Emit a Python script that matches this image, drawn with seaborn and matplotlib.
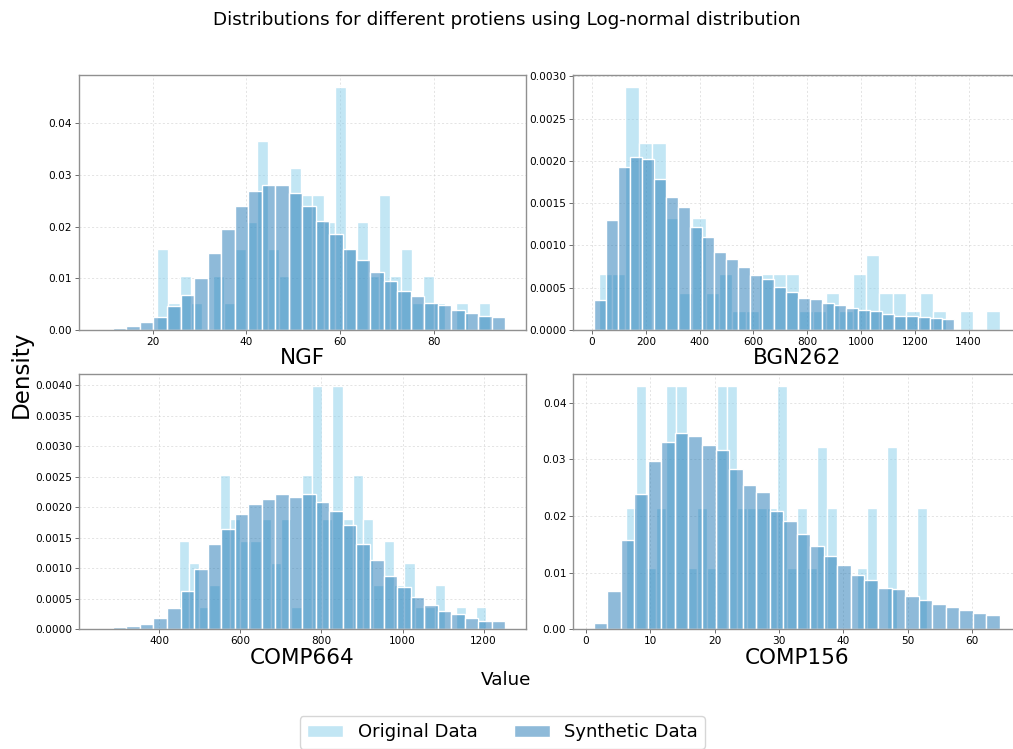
import numpy as np
import pandas as pd
import matplotlib
matplotlib.use("Agg")
import matplotlib.pyplot as plt
import seaborn as sns

proteins = ["NGF", "BGN262", "COMP664", "COMP156"]

# ---- bin layout (start, width) for each series, 30 bins each ----
orig_bin_start = [21.0, 24.7, 447.6, 6.30]
orig_bin_width = [2.365, 49.7, 25.3, 1.558]
syn_bin_start = [8.6, 6.2, 252.3, 1.24]
syn_bin_width = [2.89, 44.6, 33.37, 2.102]

# ---- densities ----
ngf_orig = [0.0157, 0.0052, 0.0104, 0.0052, 0.0, 0.0104, 0.0052, 0.0157, 0.0209, 0.0365,
            0.0157, 0.0104, 0.0313, 0.0261, 0.0261, 0.0209, 0.0470, 0.0157, 0.0209, 0.0104,
            0.0261, 0.0104, 0.0157, 0.0052, 0.0104, 0.0052, 0.0, 0.0052, 0.0, 0.0052]
ngf_syn = [0.0001, 0.0003, 0.0008, 0.0016, 0.0025, 0.0047, 0.0068, 0.0101, 0.0148, 0.0196,
           0.0240, 0.0269, 0.0280, 0.0281, 0.0265, 0.0240, 0.0211, 0.0185, 0.0157, 0.0135,
           0.0113, 0.0095, 0.0075, 0.0065, 0.0053, 0.0048, 0.0039, 0.0033, 0.0027, 0.0025]

bgn_orig = [0.000663, 0.000663, 0.002873, 0.00221, 0.00221, 0.001326, 0.000442, 0.001326,
            0.000442, 0.000663, 0.000221, 0.000221, 0.000663, 0.000663, 0.000663, 0.000221,
            0.000221, 0.000442, 0.000221, 0.000663, 0.000884, 0.000442, 0.000442, 0.000221,
            0.000442, 0.000221, 0.0, 0.000221, 0.0, 0.000221]
bgn_syn = [0.000354, 0.00130, 0.00193, 0.00205, 0.00202, 0.00179, 0.00157, 0.00145, 0.00122,
           0.00110, 0.00092, 0.00084, 0.00074, 0.00065, 0.00060, 0.00051, 0.00045, 0.00038,
           0.00037, 0.00032, 0.00029, 0.00026, 0.00024, 0.00022, 0.00019, 0.00017, 0.00016,
           0.00015, 0.00014, 0.00013]

c664_orig = [0.001448, 0.001086, 0.000362, 0.000724, 0.002534, 0.00181, 0.001448, 0.001448,
             0.00181, 0.001086, 0.00181, 0.000362, 0.002534, 0.003982, 0.00181, 0.003982,
             0.00181, 0.002534, 0.00181, 0.000724, 0.001448, 0.000724, 0.001086, 0.000362,
             0.000362, 0.000724, 0.0, 0.000362, 0.0, 0.000362]
c664_syn = [0.000016, 0.000033, 0.00005, 0.000077, 0.00019, 0.000346, 0.000626, 0.00098,
            0.00139, 0.00165, 0.00188, 0.00205, 0.00213, 0.00222, 0.00217, 0.00221, 0.00209,
            0.00193, 0.00170, 0.00139, 0.00113, 0.00087, 0.00069, 0.00052, 0.00039, 0.00030,
            0.00025, 0.00019, 0.00014, 0.00014]

c156_orig = [0.02144, 0.04288, 0.01072, 0.02144, 0.04288, 0.04288, 0.01072, 0.02144, 0.01072,
             0.04288, 0.04288, 0.02144, 0.02144, 0.02144, 0.02144, 0.04288, 0.01072, 0.02144,
             0.01072, 0.03216, 0.02144, 0.0, 0.0, 0.01072, 0.02144, 0.0, 0.03216, 0.0, 0.0,
             0.02144]
c156_syn = [0.00106, 0.00674, 0.01566, 0.02393, 0.02962, 0.03302, 0.03460, 0.03402, 0.03243,
            0.03161, 0.02833, 0.02540, 0.02422, 0.02094, 0.01912, 0.01677, 0.01472, 0.01284,
            0.01138, 0.00950, 0.00868, 0.00721, 0.00710, 0.00581, 0.00510, 0.00440, 0.00387,
            0.00340, 0.00287, 0.00258]

original = [ngf_orig, bgn_orig, c664_orig, c156_orig]
synthetic = [ngf_syn, bgn_syn, c664_syn, c156_syn]

fig, axes = plt.subplots(2, 2, figsize=(10.13, 7.49), dpi=100)
fig.subplots_adjust(left=0.078, right=1.007, top=0.9, bottom=0.16,
                    wspace=0.107, hspace=0.173)

for k, ax in enumerate(axes.flat):
    for vals, start, width, color, label in [
        (original[k], orig_bin_start[k], orig_bin_width[k], "skyblue", "Original Data"),
        (synthetic[k], syn_bin_start[k], syn_bin_width[k], "#1f77b4", "Synthetic Data"),
    ]:
        n = len(vals)
        edges = start + width * np.arange(n + 1)
        centers = (edges[:-1] + edges[1:]) / 2
        df = pd.DataFrame({"value": centers, "density": np.asarray(vals, dtype=float)})
        sns.histplot(data=df, x="value", weights="density", bins=n,
                     binrange=(edges[0], edges[-1]), stat="count",
                     color=color, alpha=0.5, edgecolor="white", linewidth=1.0,
                     label=label, ax=ax)
    ax.set_xlabel(proteins[k], fontsize=15.5, labelpad=1)
    ax.set_ylabel("")
    ax.grid(True, linestyle=(0, (3, 3)), color="#d0d0d0", linewidth=0.5, alpha=0.8)
    ax.set_axisbelow(True)
    for sp in ax.spines.values():
        sp.set_color("#909090")
        sp.set_linewidth(1.0)
    ax.tick_params(axis="both", labelsize=7.6, color="#555555", length=2.6,
                   width=0.6, pad=2.5)

fig.suptitle("Distributions for different protiens using Log-normal distribution",
             fontsize=13.2, y=0.985)
fig.supxlabel("Value", fontsize=13.2, y=0.08)
fig.supylabel("Density", fontsize=16.6, x=0.01)

handles, labels = axes.flat[0].get_legend_handles_labels()
fig.legend(handles, labels, loc="upper center", bbox_to_anchor=(0.496, 0.056),
           ncol=2, fontsize=13, frameon=True, columnspacing=2.0)

fig.savefig("out.png", dpi=100)
